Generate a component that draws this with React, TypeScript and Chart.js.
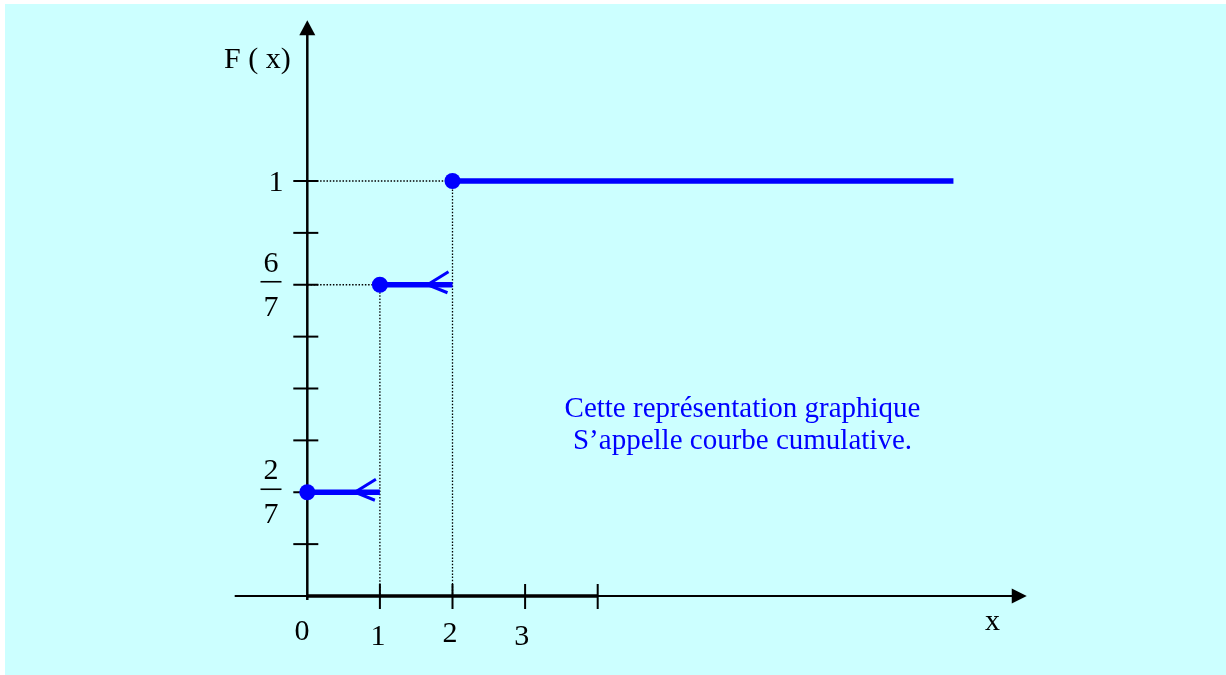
import React, { useEffect, useRef } from 'react';
import { Chart, registerables } from 'chart.js';

Chart.register(...registerables);

// ---- data ----
const yLevels = ['0', '', '2/7', '', '', '', '6/7', '', '1'];
const stepStarts = [0, 1, 2];
const stepEnds = [1, 2, 8.9];
const stepValues = ['2/7', '6/7', '1'];
const xTickValues = [1, 2, 3, 4];
const xTickLabels = ['0', '1', '2', '3'];
const boldAxisRange = [0, 4];
const yAxisTitle = 'F ( x)';
const xAxisTitle = 'x';
const noteLines = ['Cette représentation graphique', 'S\u2019appelle courbe cumulative.'];

const FONT = '"Liberation Serif", "Times New Roman", serif';
const BLUE = '#0000FF';

const decorPlugin = {
  id: 'decor',
  beforeDraw(chart: any) {
    const ctx = chart.ctx;
    ctx.save();
    ctx.fillStyle = '#ffffff';
    ctx.fillRect(0, 0, chart.width, chart.height);
    ctx.fillStyle = '#CCFFFF';
    ctx.fillRect(5, 4, chart.width - 5, chart.height - 4);
    ctx.restore();
  },
  beforeDatasetsDraw(chart: any) {
    const { ctx } = chart;
    const x = chart.scales.x;
    const y = chart.scales.y;
    const x0 = x.getPixelForValue(0);
    const y0 = y.getPixelForValue(0);
    const yTop = y.getPixelForValue(yLevels.length - 1);
    const unitY = (y0 - yTop) / (yLevels.length - 1);
    ctx.save();
    ctx.strokeStyle = '#000';
    ctx.fillStyle = '#000';
    // x axis
    const xLeft = x.getPixelForValue(-1);
    const xTip = x.getPixelForValue(9.91);
    ctx.lineWidth = 2;
    ctx.beginPath();
    ctx.moveTo(xLeft, y0);
    ctx.lineTo(xTip - 13, y0);
    ctx.stroke();
    ctx.beginPath();
    ctx.moveTo(xTip, y0);
    ctx.lineTo(xTip - 15, y0 - 7.5);
    ctx.lineTo(xTip - 15, y0 + 7.5);
    ctx.closePath();
    ctx.fill();
    // y axis
    const yTip = y0 - unitY * 11.1;
    ctx.lineWidth = 2.5;
    ctx.beginPath();
    ctx.moveTo(x0, y0 + 4);
    ctx.lineTo(x0, yTip + 13);
    ctx.stroke();
    ctx.beginPath();
    ctx.moveTo(x0, yTip);
    ctx.lineTo(x0 - 8, yTip + 15);
    ctx.lineTo(x0 + 8, yTip + 15);
    ctx.closePath();
    ctx.fill();
    // x ticks
    ctx.lineWidth = 2;
    xTickValues.forEach((v) => {
      const px = x.getPixelForValue(v);
      ctx.beginPath();
      ctx.moveTo(px, y0 - 12);
      ctx.lineTo(px, y0 + 13);
      ctx.stroke();
    });
    // y ticks
    for (let i = 1; i < yLevels.length; i++) {
      const py = y.getPixelForValue(i);
      ctx.beginPath();
      ctx.moveTo(x0 - 14, py);
      ctx.lineTo(x0 + 11, py);
      ctx.stroke();
    }
    ctx.restore();
  },
  afterDatasetsDraw(chart: any) {
    const { ctx } = chart;
    const x = chart.scales.x;
    const y = chart.scales.y;
    const y0 = y.getPixelForValue(0);
    ctx.save();
    // open-end marks
    ctx.strokeStyle = BLUE;
    ctx.lineWidth = 3;
    for (let i = 0; i < stepValues.length - 1; i++) {
      const ex = x.getPixelForValue(stepEnds[i]);
      const ey = y.getPixelForValue(stepValues[i]);
      ctx.beginPath();
      ctx.moveTo(ex - 4, ey - 13);
      ctx.lineTo(ex - 25, ey);
      ctx.lineTo(ex - 5, ey + 8);
      ctx.stroke();
    }
    // y labels
    ctx.fillStyle = '#000';
    ctx.strokeStyle = '#000';
    ctx.font = `30px ${FONT}`;
    ctx.textAlign = 'center';
    ctx.textBaseline = 'alphabetic';
    stepValues.forEach((v) => {
      const py = y.getPixelForValue(v);
      if (v.includes('/')) {
        const [num, den] = v.split('/');
        const cx = 271;
        const bar = py - 3;
        ctx.fillText(num, cx, bar - 10);
        ctx.fillText(den, cx, bar + 34);
        ctx.lineWidth = 1.6;
        ctx.beginPath();
        ctx.moveTo(cx - 10.5, bar);
        ctx.lineTo(cx + 10.5, bar);
        ctx.stroke();
      } else {
        ctx.fillText(v, 276, py + 10);
      }
    });
    // x labels (staggered as in the original)
    const dx = [-5.3, -1.9, -2.5, -3.4];
    const dy = [43.7, 49, 45.7, 49];
    xTickLabels.forEach((lab, i) => {
      const px = x.getPixelForValue(Number(lab));
      ctx.fillText(lab, px + dx[i], y0 + dy[i]);
    });
    // axis titles
    ctx.textAlign = 'left';
    ctx.fillText(yAxisTitle, 224, 68);
    ctx.fillText(xAxisTitle, 985, 630);
    // note
    ctx.font = `29px ${FONT}`;
    ctx.fillStyle = BLUE;
    ctx.textAlign = 'center';
    ctx.fillText(noteLines[0], 742.5, 417);
    ctx.fillText(noteLines[1], 742.5, 449);
    ctx.restore();
  },
};

export default function App() {
  const canvasRef = useRef<HTMLCanvasElement | null>(null);

  useEffect(() => {
    if (!canvasRef.current) return;
    const stepSets = stepValues.map((v, i) => ({
      data: [
        { x: stepStarts[i], y: v },
        { x: stepEnds[i], y: v },
      ],
      borderColor: BLUE,
      borderWidth: 5.5,
      borderCapStyle: 'butt',
      pointRadius: [8, 0],
      pointBackgroundColor: BLUE,
      pointBorderWidth: 0,
      clip: false,
    }));
    const guideSets = stepValues.slice(1).map((v, i) => ({
      data: [
        { x: 0, y: v },
        { x: stepStarts[i + 1], y: v },
        { x: stepStarts[i + 1], y: '0' },
      ],
      borderColor: '#000',
      borderWidth: 1.3,
      borderDash: [1.5, 1.7],
      pointRadius: 0,
      clip: false,
    }));
    const axisSet = {
      data: [
        { x: boldAxisRange[0], y: '0' },
        { x: boldAxisRange[1], y: '0' },
      ],
      borderColor: '#000',
      borderWidth: 3.5,
      pointRadius: 0,
      clip: false,
    };
    const chart = new Chart(canvasRef.current, {
      type: 'line',
      data: { datasets: [...stepSets, ...guideSets, axisSet] as any },
      options: {
        animation: false,
        responsive: false,
        events: [],
        layout: { padding: { left: 234.7, right: 192.7, top: 181, bottom: 79 } },
        plugins: { legend: { display: false }, tooltip: { enabled: false } },
        scales: {
          x: { type: 'linear', min: -1, max: 10, display: false },
          y: { type: 'category', labels: yLevels, reverse: true, display: false },
        },
      } as any,
      plugins: [decorPlugin],
    });
    return () => chart.destroy();
  }, []);

  return (
    <div style={{ position: 'fixed', left: 0, top: 0, width: 1226, height: 675, background: '#fff' }}>
      <canvas ref={canvasRef} width={1226} height={675} style={{ display: 'block' }} />
    </div>
  );
}
